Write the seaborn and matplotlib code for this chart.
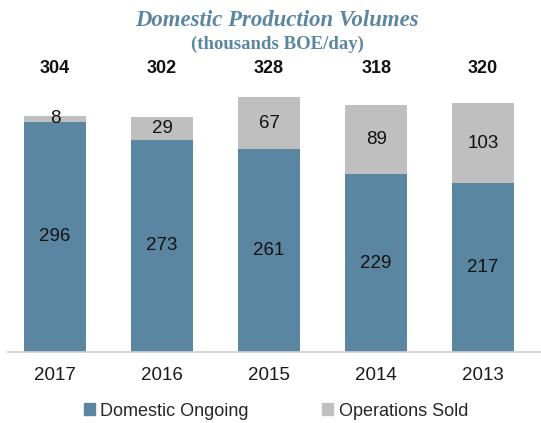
import pandas as pd
import seaborn as sns
import matplotlib.pyplot as plt
from matplotlib.patches import Patch

years = ['2017', '2016', '2015', '2014', '2013']
domestic = [296, 273, 261, 229, 217]
sold = [8, 29, 67, 89, 103]
totals = [304, 302, 328, 318, 320]

blue = '#5b86a2'
grey = '#bfbfbf'

sns.set_theme(style='white')
plt.rcParams['font.family'] = ['Liberation Sans', 'DejaVu Sans']

df = pd.DataFrame({'year': years, 'domestic': domestic, 'sold': sold, 'total': totals})

fig = plt.figure(figsize=(5.41, 4.23), dpi=100)
ax = fig.add_axes([8 / 541, 71 / 423, 534 / 541, 272 / 423])

# stacked: full height in grey, domestic part in blue on top of it
sns.barplot(data=df, x='year', y='total', color=grey, width=0.58, saturation=1,
            linewidth=0, ax=ax)
sns.barplot(data=df, x='year', y='domestic', color=blue, width=0.58, saturation=1,
            linewidth=0, ax=ax)

ax.set_xlim(-0.44, 4.55)
ax.set_ylim(0, 350)
ax.set_xlabel('')
ax.set_ylabel('')
ax.set_yticks([])
for s in ['top', 'right', 'left']:
    ax.spines[s].set_visible(False)
ax.spines['bottom'].set_color('#d0d0d0')
ax.spines['bottom'].set_linewidth(1.2)
ax.tick_params(axis='x', length=0, labelsize=13.5, pad=11, colors='#1a1a1a')

for i in range(len(years)):
    ax.text(i, domestic[i] / 2, str(domestic[i]), ha='center', va='center',
            fontsize=13.5, color='#111111')
    ax.text(i, domestic[i] + sold[i] / 2, str(sold[i]), ha='center', va='center',
            fontsize=13.5, color='#111111')
    ax.text(i, 365, str(totals[i]), ha='center', va='center', fontsize=13,
            fontweight='bold', color='#111111', clip_on=False)

fig.text(0.512, 1 - 20 / 423, 'Domestic Production Volumes', ha='center', va='center',
         fontsize=16.4, fontweight='bold', fontstyle='italic', color='#5b86a2',
         family=['Liberation Serif', 'DejaVu Serif'])
fig.text(0.512, 1 - 44 / 423, '(thousands BOE/day)', ha='center', va='center',
         fontsize=13.5, fontweight='bold', color='#5b86a2',
         family=['Liberation Serif', 'DejaVu Serif'])

handles = [Patch(color=blue, label='Domestic Ongoing'),
           Patch(color=grey, label='Operations Sold')]
fig.legend(handles=handles, loc='center', bbox_to_anchor=(0.51, 1 - 411 / 423),
           ncol=2, frameon=False, fontsize=13, handlelength=0.6, handleheight=0.6,
           handletextpad=0.3, columnspacing=4.1, borderpad=0)

fig.savefig('out.png', dpi=100, facecolor='white')
